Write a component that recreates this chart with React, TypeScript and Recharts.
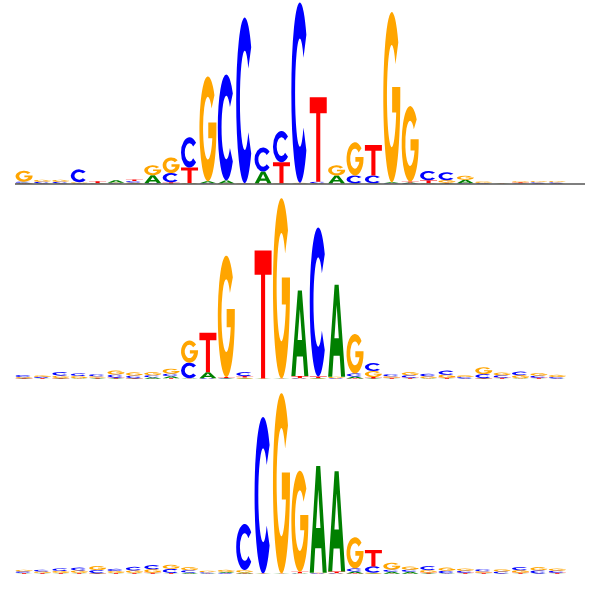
import { BarChart, Bar, XAxis, YAxis, ReferenceLine } from "recharts";

// 31 positions per motif, heights in bits
const positions = Array.from({ length: 31 }, (_, i) => i + 1);

const m1A = [.009, .005, .005, .005, .003, .027, .005, .087, .003, .005, .022, .033, .003, .13, .003, .005, .003, .087, .003, .003, .011, .011, .005, .005, .038, .003, .002, .002, .003, .003, 0];
const m1C = [.011, .016, .016, .14, .003, .005, .016, .005, .1, .33, .005, 1.15, 1.8, .26, .34, 1.96, .016, .003, .087, .087, .005, .005, .1, .087, .005, .005, .002, .005, .013, .013, 0];
const m1G = [.12, .022, .022, .011, .003, .005, .011, .11, .17, .003, 1.14, .003, .003, .003, .003, .005, .005, .11, .36, .003, 1.85, .82, .003, .027, .043, .016, .002, .013, .014, .014, 0];
const m1T = [.005, .003, .003, .003, .022, .003, .018, .003, .016, .17, .003, .003, .003, .003, .23, .003, .92, .003, .003, .33, .003, .011, .033, .009, .003, .003, .002, .011, .003, .003, 0];

const m2A = [.005, .003, .005, .005, .005, .005, .005, .016, .022, .005, .065, .005, .005, .002, .002, .93, .005, 1.0, .022, .005, .003, .003, .005, .003, .003, .005, .003, .005, .003, .003, 0];
const m2C = [.022, .011, .038, .027, .022, .033, .027, .022, .027, .17, .005, .005, .043, .002, .002, .005, 1.62, .005, .033, .087, .022, .027, .027, .043, .016, .043, .027, .038, .022, .016, 0];
const m2G = [.011, .016, .027, .026, .016, .043, .033, .033, .054, .24, .003, 1.32, .011, .002, 1.96, .005, .005, .016, .43, .065, .016, .033, .022, .033, .017, .076, .028, .033, .027, .022, 0];
const m2T = [.005, .009, .005, .003, .009, .011, .005, .003, .009, .003, .43, .011, .016, 1.39, .002, .022, .016, .003, .005, .016, .011, .011, .003, .011, .003, .005, .011, .003, .011, .003, 0];

const m3A = [.003, .003, .003, .003, .005, .003, .003, .003, .003, .011, .005, .011, .011, .002, .002, .005, 1.16, 1.09, .022, .005, .022, .022, .005, .005, .003, .003, .003, .003, .003, .003, 0];
const m3C = [.016, .017, .027, .03, .033, .022, .038, .043, .043, .027, .011, .009, .5, 1.7, .002, .003, .005, .005, .033, .065, .022, .022, .043, .027, .022, .022, .022, .033, .033, .022, 0];
const m3G = [.017, .016, .022, .027, .043, .021, .027, .038, .046, .033, .016, .022, .027, .002, 1.96, 1.1, .005, .005, .34, .011, .076, .033, .027, .033, .023, .016, .023, .027, .034, .023, 0];
const m3T = [.009, .009, .009, .009, .005, .009, .009, .011, .009, .003, .003, .003, .005, .002, .002, .016, .003, .016, .005, .18, .003, .003, .011, .003, .011, .011, .003, .011, .003, .011, 0];

const COLORS: Record<string, string> = { A: "#008000", C: "#0000FF", G: "#FFA500", T: "#FF0000" };

// glyph outlines in a 100x100 box, stretched to each letter's rect
const GLYPHS: Record<string, string> = {
  A: "M0 100 L38 0 L62 0 L100 100 L76 100 L68 77 L32 77 L24 100 Z M37 58 L63 58 L50 22 Z",
  C: "M88.3 17.9 A50 50 0 1 0 88.3 82.1 L71.4 69.3 A28 30 0 1 1 71.4 30.7 Z",
  G: "M88.3 17.9 A50 50 0 1 0 100 50 L100 44 L52 44 L52 59 L76 59 A28 30 0 1 1 71.4 30.7 Z",
  T: "M0 0 L100 0 L100 19 L62 19 L62 100 L38 100 L38 19 L0 19 Z",
};

function buildRows(a: number[], c: number[], g: number[], t: number[]) {
  return positions.map((pos, i) => {
    const items: [string, number][] = [["A", a[i]], ["C", c[i]], ["G", g[i]], ["T", t[i]]];
    items.sort((p, q) => p[1] - q[1]);
    const row: any = { pos };
    items.forEach(([b, v], k) => {
      row[`s${k}`] = v;
      row[`b${k}`] = b;
    });
    return row;
  });
}

function letterShape(slot: number) {
  return (props: any) => {
    const { x, y, width, height, payload } = props;
    if (!height || height <= 0 || !payload) return <g />;
    const base = payload[`b${slot}`];
    return (
      <path
        d={GLYPHS[base]}
        fill={COLORS[base]}
        fillRule="evenodd"
        transform={`translate(${x},${y}) scale(${width / 100},${height / 100})`}
      />
    );
  };
}

function Logo({ data, axis }: { data: any[]; axis?: boolean }) {
  return (
    <BarChart
      width={590}
      height={195}
      data={data}
      margin={{ top: 0, right: 5, bottom: 11, left: 15 }}
      barCategoryGap="3%"
    >
      <XAxis dataKey="pos" hide />
      <YAxis hide domain={[0, 2]} />
      {[0, 1, 2, 3].map((k) => (
        <Bar key={k} dataKey={`s${k}`} stackId="logo" shape={letterShape(k)} isAnimationActive={false} />
      ))}
      {axis && <ReferenceLine y={0} stroke="#555" strokeWidth={1.5} />}
    </BarChart>
  );
}

export default function App() {
  return (
    <div style={{ position: "absolute", left: 0, top: 0, width: 590, height: 590, background: "#fff" }}>
      <Logo data={buildRows(m1A, m1C, m1G, m1T)} axis />
      <Logo data={buildRows(m2A, m2C, m2G, m2T)} />
      <Logo data={buildRows(m3A, m3C, m3G, m3T)} />
    </div>
  );
}
